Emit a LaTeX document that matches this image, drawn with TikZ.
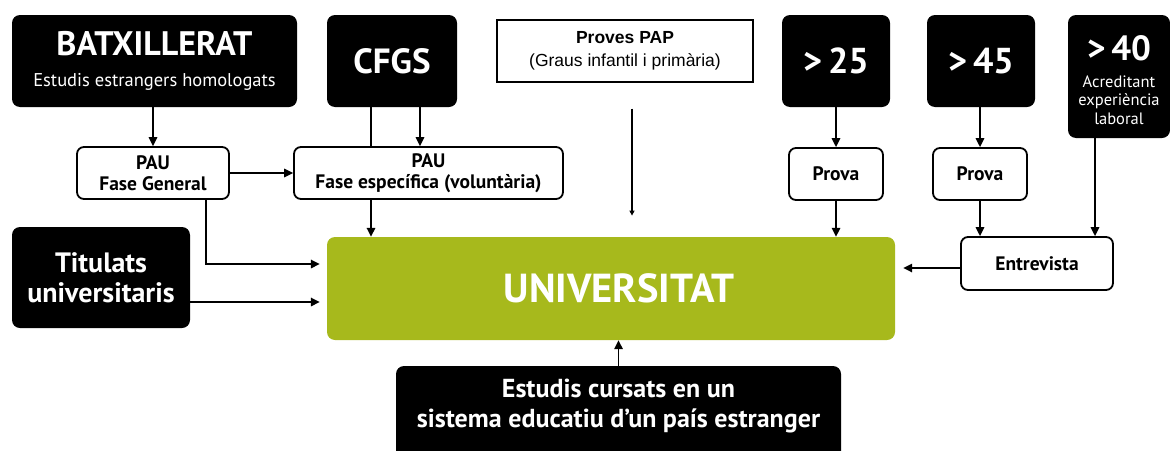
\documentclass[tikz,border=0pt]{standalone}
\usepackage{fontspec}
\setmainfont{PT Sans}
\newfontfamily\papfont{Liberation Sans}
\usetikzlibrary{arrows.meta}
\definecolor{uni}{HTML}{A7B91C}
\tikzset{
  blk/.style={fill=black, text=white, rounded corners=8pt, inner sep=0pt, align=center, font=\bfseries},
  wbox/.style={draw=black, line width=1.8pt, fill=white, rounded corners=7pt, inner sep=0pt, align=center, font=\bfseries\fontsize{19.5}{21}\selectfont},
  arr/.style={-{Triangle[length=9pt,width=8.5pt]}, line width=1.6pt},
  arrs/.style={-{Triangle[length=5pt,width=5pt]}, line width=1.3pt},
  ln/.style={line width=1.6pt}
}
\begin{document}
\begin{tikzpicture}[x=1pt,y=-1pt]
\useasboundingbox (0,0) rectangle (1170,450);
\clip (0,0) rectangle (1170,450);
% black boxes
\node[blk, minimum width=285pt, minimum height=92pt, font=\bfseries\fontsize{34}{31}\selectfont] (batx) at (154.5,61)
  {BATXILLERAT\\\mdseries\fontsize{18.5}{22}\selectfont Estudis estrangers homologats};
\node[blk, minimum width=130pt, minimum height=92pt, font=\bfseries\fontsize{35}{37}\selectfont] (cfgs) at (392,61) {CFGS};
\node[draw=black, line width=1.2pt, fill=white, minimum width=256pt, minimum height=62pt, inner sep=0pt, align=center, font=\papfont\fontsize{17.5}{23}\selectfont] (pap) at (625,51)
  {\textbf{Proves PAP}\\(Graus infantil i primària)};
\node[blk, minimum width=108pt, minimum height=92pt, font=\bfseries\fontsize{36}{38}\selectfont] (g25) at (836,61) {>\,25};
\node[blk, minimum width=108pt, minimum height=92pt, font=\bfseries\fontsize{36}{38}\selectfont] (g45) at (981,61) {>\,45};
\node[blk, minimum width=102pt, minimum height=123pt, font=\mdseries\fontsize{16.5}{18.5}\selectfont] (g40) at (1119,76.5)
  {\rule{0pt}{32.5pt}\bfseries\fontsize{35}{37}\selectfont >\,40\\[8pt]Acreditant\\experiència\\laboral};
% white boxes
\node[wbox, minimum width=152pt, minimum height=52pt] (pgen) at (153,173) {PAU\\Fase General};
\node[wbox, minimum width=269pt, minimum height=52pt] (pesp) at (428.5,173) {PAU\\Fase específica (voluntària)};
\node[wbox, minimum width=94pt, minimum height=52pt] (prova1) at (836,174) {Prova};
\node[wbox, minimum width=94pt, minimum height=52pt] (prova2) at (980,174) {Prova};
\node[wbox, minimum width=152pt, minimum height=53pt] (entr) at (1037,263.5) {Entrevista};
% university
\node[fill=uni, text=white, rounded corners=8pt, minimum width=568pt, minimum height=103pt, inner sep=0pt, font=\bfseries\fontsize{40.5}{42}\selectfont] (uni) at (611,288.5) {\hspace*{16pt}UNIVERSITAT};
\node[blk, minimum width=178pt, minimum height=101pt, font=\bfseries\fontsize{28}{30}\selectfont] (tit) at (101,277.5) {Titulats\\universitaris};
\node[blk, minimum width=445pt, minimum height=104pt] (est) at (618.5,418) {};
\node[text=white, inner sep=0pt, align=center, font=\bfseries\fontsize{26}{30}\selectfont] (estT) at (618.5,406) {Estudis cursats en un\\sistema educatiu d’un país estranger};
% connectors
\draw[arr] (pgen.north |- batx.south) -- (pgen.north);
\draw[arr] ([xshift=28pt]cfgs.south) -- ([xshift=28pt]cfgs.south |- pesp.north);
\draw[ln] ([xshift=-21pt]cfgs.south) -- ([xshift=-21pt]cfgs.south |- pesp.north);
\draw[arr] ([xshift=-21pt]cfgs.south |- pesp.south) -- ([xshift=-21pt]cfgs.south |- uni.north);
\draw[arr] (pgen.east) -- (pesp.west);
\draw[arr, shorten >=7pt] ([xshift=53pt]pgen.south) |- ([yshift=24.5pt]uni.west);
\draw[arr, shorten >=7pt] ([yshift=-24.5pt]tit.east) -- ([yshift=-24.5pt]tit.east -| uni.west);
\coordinate (papS) at ([xshift=7pt,yshift=-26pt]pap.south);
\coordinate (papE) at ([xshift=7pt,yshift=-133pt]pap.south);
\draw[arrs] (papS) -- (papE);
\draw[arr] (g25.south) -- (prova1.north);
\draw[arr] (prova1.south) -- (prova1.south |- uni.north);
\draw[arr] (prova2.north |- g45.south) -- (prova2.north);
\draw[arr] (prova2.south) -- (prova2.south |- entr.north);
\draw[arr] ([xshift=-24pt]g40.south) -- ([xshift=-24pt]g40.south |- entr.north);
\draw[arr, shorten >=8pt] ([yshift=-4.5pt]entr.west) -- ([yshift=-4.5pt]entr.west -| uni.east);
\draw[arr] (est.north) -- (est.north |- uni.south);
\end{tikzpicture}
\end{document}
